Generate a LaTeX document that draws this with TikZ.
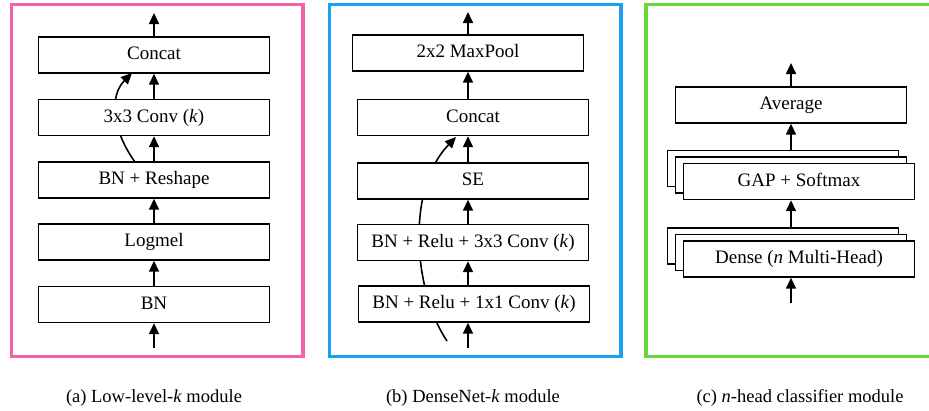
\documentclass[tikz,border=0pt]{standalone}
\usepackage{fontspec}
\setmainfont{Liberation Serif}
\usetikzlibrary{arrows.meta,calc}
\definecolor{fpink}{RGB}{240,98,170}
\definecolor{fblue}{RGB}{27,161,242}
\definecolor{fgreen}{RGB}{102,216,58}
\tikzset{
  blk/.style={draw=black,fill=white,line width=1.4pt,minimum width=231pt,minimum height=36pt,
    inner sep=0pt,text height=13pt,text depth=4pt,font=\fontsize{19}{22}\selectfont},
  flow/.style={line width=1.6pt,-{Triangle[width=10pt,length=11pt]}},
  modframe/.style={line width=3.8pt},
  captxt/.style={font=\fontsize{18.5}{22}\selectfont,inner sep=0pt,text height=13pt,text depth=4pt}
}
\begin{document}
\begin{tikzpicture}[x=1pt,y=-1pt]
\useasboundingbox (0,0) rectangle (929,410);
\clip (0,0) rectangle (929,410);
\fill[white] (0,0) rectangle (929,410);

% frames
\draw[modframe,fpink] (11.5,4.5) rectangle (303.3,356.5);
\draw[modframe,fblue] (329.5,4.5) rectangle (621,356.5);
\draw[modframe,fgreen] (646,4.5) rectangle (940,356.5);

% ---------- (a) ----------
\coordinate (a0) at (154,348);
\coordinate (aT) at (154,13);
\coordinate (as) at (135,162);
\coordinate (ae) at (132,73);
\draw[flow] (as) .. controls (112,130) and (109,96) .. (ae);
\node[blk] (aconcat) at (154,55) {Concat};
\node[blk] (aconv) at (154,117.5) {3x3 Conv (\textit{k})};
\node[blk] (areshape) at (154,180) {BN + Reshape};
\node[blk] (alogmel) at (154,242) {Logmel};
\node[blk] (abn) at (154,304.5) {BN};
\draw[flow] (a0) -- (abn.south);
\draw[flow] (abn.north) -- (alogmel.south);
\draw[flow] (alogmel.north) -- (areshape.south);
\draw[flow] (areshape.north) -- (aconv.south);
\draw[flow] (aconv.north) -- (aconcat.south);
\draw[flow] (aconcat.north) -- (aT);

% ---------- (b) ----------
\coordinate (b0) at (468,348);
\coordinate (bT) at (468,12);
\coordinate (bs) at (447,341);
\coordinate (be) at (456,137);
\draw[flow] (bs) .. controls (414,292) and (405,190) .. (be);
\node[blk] (bpool) at (468,53) {2x2 MaxPool};
\node[blk] (bconcat) at (473,117.5) {Concat};
\node[blk] (bse) at (473,181) {SE};
\node[blk] (bconvb) at (473,242.5) {BN + Relu + 3x3 Conv (\textit{k})};
\node[blk] (bconva) at (474,304) {BN + Relu + 1x1 Conv (\textit{k})};
\draw[flow] (b0) -- (b0 |- bconva.south);
\draw[flow] (b0 |- bconva.north) -- (b0 |- bconvb.south);
\draw[flow] (b0 |- bconvb.north) -- (b0 |- bse.south);
\draw[flow] (b0 |- bse.north) -- (b0 |- bconcat.south);
\draw[flow] (b0 |- bconcat.north) -- (bpool.south);
\draw[flow] (bpool.north) -- (bT);

% ---------- (c) ----------
\coordinate (c0) at (791,303);
\coordinate (cT) at (791,63);
\node[blk] (cavg) at (791,105) {Average};
\node[blk] (cgap3) at (783,168.5) {};
\node[blk] (cgap2) at (791,175) {};
\node[blk] (cgap1) at (799,181.5) {GAP + Softmax};
\node[blk] (cden3) at (783,246) {};
\node[blk] (cden2) at (791,252.5) {};
\node[blk] (cden1) at (799,259) {Dense (\textit{n} Multi-Head)};
\draw[flow] (c0) -- (c0 |- cden1.south);
\draw[flow] (c0 |- cden3.north) -- (c0 |- cgap1.south);
\draw[flow] (c0 |- cgap3.north) -- (cavg.south);
\draw[flow] (cavg.north) -- (cT);

% captions
\node[captxt] (capa) at (154,398) {(a) Low-level-\textit{k} module};
\node[captxt] (capb) at (473,398) {(b) DenseNet-\textit{k} module};
\node[captxt] (capc) at (800,398) {(c) \textit{n}-head classifier module};
\end{tikzpicture}
\end{document}
